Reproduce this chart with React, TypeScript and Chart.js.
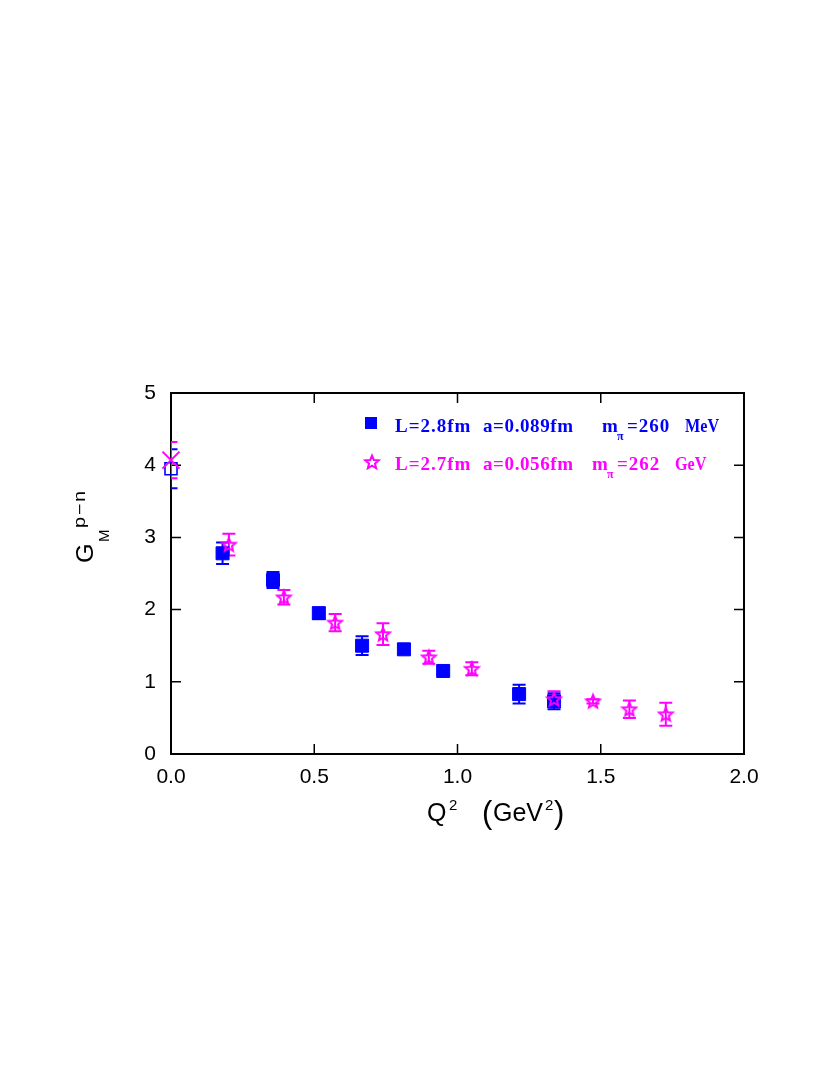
import React, { useEffect, useRef } from 'react';
import Chart from 'chart.js/auto';

// ---- data ----
const xTicks = [0, 0.5, 1.0, 1.5, 2.0];
const xTickLabels = ['0.0', '0.5', '1.0', '1.5', '2.0'];
const yTicks = [0, 1, 2, 3, 4, 5];
const yTickLabels = ['0', '1', '2', '3', '4', '5'];

const blueQ2 = [0, 0.18, 0.356, 0.516, 0.667, 0.813, 0.95, 1.215, 1.337];
const blueG = [3.95, 2.78, 2.41, 1.95, 1.5, 1.45, 1.15, 0.83, 0.73];
const blueErr = [0.27, 0.15, 0.11, 0.08, 0.13, 0.06, 0.05, 0.13, 0.11];

const magQ2 = [0, 0.202, 0.394, 0.573, 0.74, 0.9, 1.05, 1.337, 1.473, 1.6, 1.727];
const magG = [4.07, 2.9, 2.17, 1.82, 1.66, 1.34, 1.18, 0.76, 0.73, 0.62, 0.55];
const magErr = [0.25, 0.15, 0.1, 0.12, 0.15, 0.09, 0.09, 0.11, 0.03, 0.12, 0.16];

const BLUE = '#0000ff';
const MAG = '#ff00ff';

function makeStar(color: string, size: number, lw: number): HTMLCanvasElement {
  const c = document.createElement('canvas');
  c.width = size;
  c.height = size;
  const ctx = c.getContext('2d')!;
  const cx = size / 2;
  const cy = size / 2 + 0.6;
  const R = size / 2 - lw;
  const r = R * 0.45;
  ctx.beginPath();
  for (let i = 0; i < 10; i++) {
    const rad = i % 2 === 0 ? R : r;
    const a = -Math.PI / 2 + (i * Math.PI) / 5;
    const px = cx + rad * Math.cos(a);
    const py = cy + rad * Math.sin(a);
    if (i === 0) ctx.moveTo(px, py);
    else ctx.lineTo(px, py);
  }
  ctx.closePath();
  ctx.strokeStyle = color;
  ctx.lineWidth = lw;
  ctx.lineJoin = 'miter';
  ctx.stroke();
  return c;
}

function stretchText(ctx: CanvasRenderingContext2D, t: string, x: number, y: number, font: string, sx: number, ls = '0px') {
  ctx.save();
  ctx.translate(x, y);
  ctx.scale(sx, 1);
  ctx.font = font;
  (ctx as any).letterSpacing = ls;
  ctx.fillText(t, 0, 0);
  ctx.restore();
}

const framePlugin = {
  id: 'frameAndErrors',
  beforeDatasetsDraw(chart: any) {
    const { ctx, chartArea } = chart;
    const { left, right, top, bottom } = chartArea;
    const xs = chart.scales.x;
    const ys = chart.scales.y;
    ctx.save();
    ctx.strokeStyle = '#000';
    ctx.lineWidth = 2;
    ctx.strokeRect(left, top, right - left, bottom - top);
    ctx.lineWidth = 1.5;
    ctx.beginPath();
    xTicks.forEach((v) => {
      if (v <= xs.min || v >= xs.max) return;
      const px = xs.getPixelForValue(v);
      ctx.moveTo(px, bottom);
      ctx.lineTo(px, bottom - 10);
      ctx.moveTo(px, top);
      ctx.lineTo(px, top + 10);
    });
    yTicks.forEach((v) => {
      if (v <= ys.min || v >= ys.max) return;
      const py = ys.getPixelForValue(v);
      ctx.moveTo(left, py);
      ctx.lineTo(left + 10, py);
      ctx.moveTo(right, py);
      ctx.lineTo(right - 10, py);
    });
    ctx.stroke();
    ctx.restore();

    // error bars (clipped to plot area)
    ctx.save();
    ctx.beginPath();
    ctx.rect(left, top, right - left, bottom - top);
    ctx.clip();
    const sets = [
      { idx: 1, err: blueErr, ys: blueG, color: BLUE },
      { idx: 0, err: magErr, ys: magG, color: MAG },
    ];
    sets.forEach((s) => {
      const meta = chart.getDatasetMeta(s.idx);
      ctx.strokeStyle = s.color;
      ctx.lineWidth = 2;
      meta.data.forEach((pt: any, j: number) => {
        const x = pt.x;
        const y1 = ys.getPixelForValue(s.ys[j] + s.err[j]);
        const y2 = ys.getPixelForValue(s.ys[j] - s.err[j]);
        ctx.beginPath();
        ctx.moveTo(x, y1);
        ctx.lineTo(x, y2);
        ctx.moveTo(x - 6.5, y1);
        ctx.lineTo(x + 6.5, y1);
        ctx.moveTo(x - 6.5, y2);
        ctx.lineTo(x + 6.5, y2);
        ctx.stroke();
      });
    });
    ctx.restore();
  },
  afterDraw(chart: any) {
    const { ctx } = chart;
    ctx.save();
    // legend
    ctx.fillStyle = BLUE;
    ctx.fillRect(365, 417, 12, 12);
    const star = makeStar(MAG, 18, 2);
    ctx.drawImage(star, 372 - 9, 462 - 9);

    ctx.textAlign = 'left';
    ctx.textBaseline = 'alphabetic';
    const seg = (t: string, x: number, y: number, color: string, size: number, ls: string, sx = 1) => {
      ctx.fillStyle = color;
      stretchText(ctx, t, x, y, `bold ${size}px "Liberation Serif"`, sx, ls);
    };
    seg('L=2.8fm', 395, 432, BLUE, 19, '1px');
    seg('a=0.089fm', 483, 432, BLUE, 19, '0.6px');
    seg('m', 602, 432, BLUE, 19, '0px');
    seg('π', 617, 440, BLUE, 12, '0px');
    seg('=260', 627, 432, BLUE, 19, '1px');
    seg('MeV', 685, 432, BLUE, 19, '0px', 0.85);

    seg('L=2.7fm', 395, 470, MAG, 19, '1px');
    seg('a=0.056fm', 483, 470, MAG, 19, '0.6px');
    seg('m', 592, 470, MAG, 19, '0px');
    seg('π', 607, 478, MAG, 12, '0px');
    seg('=262', 617, 470, MAG, 19, '1px');
    seg('GeV', 675, 470, MAG, 19, '0px', 0.85);

    // x title: Q^2 (GeV^2)
    ctx.fillStyle = '#000';
    const main = '25px "Liberation Sans"';
    const sup = '15px "Liberation Sans"';
    const paren = '31px "Liberation Sans"';
    stretchText(ctx, 'Q', 427, 821, main, 1.0);
    stretchText(ctx, '2', 449, 810, sup, 1.0);
    stretchText(ctx, '(', 482, 823, paren, 1);
    stretchText(ctx, 'GeV', 493, 821, main, 1.0);
    stretchText(ctx, '2', 545, 810, sup, 1.0);
    stretchText(ctx, ')', 554, 823, paren, 1);

    // y title: G_M^{p-n}, rotated
    ctx.translate(93, 563);
    ctx.rotate(-Math.PI / 2);
    stretchText(ctx, 'G', 0, 0, '24px "Liberation Sans"', 1.05);
    stretchText(ctx, 'M', 21, 16, '15px "Liberation Sans"', 1.0);
    stretchText(ctx, 'p', 35, -8, '16px "Liberation Sans"', 1.25);
    stretchText(ctx, '\u2212', 48, -8, '16px "Liberation Sans"', 1.2);
    stretchText(ctx, 'n', 61, -8, '16px "Liberation Sans"', 1.25);
    ctx.restore();
  },
};

export default function App() {
  const ref = useRef<HTMLCanvasElement | null>(null);
  useEffect(() => {
    if (!ref.current) return;
    const starImg = makeStar(MAG, 18, 2);
    const magStyles = magQ2.map((_, i) => (i === 0 ? 'crossRot' : starImg));
    const magRadius = magQ2.map((_, i) => (i === 0 ? 12 : 9));
    const blueStyles = blueQ2.map(() => 'rect');
    const blueBg = blueQ2.map((_, i) => (i === 0 ? 'rgba(0,0,0,0)' : BLUE));
    const blueBw = blueQ2.map((_, i) => (i === 0 ? 1.6 : 1));
    const blueR = blueQ2.map((_, i) => (i === 0 ? 8.5 : 9.2));

    const chart = new Chart(ref.current, {
      type: 'scatter',
      data: {
        datasets: [
          {
            label: 'L=2.7fm a=0.056fm m_pi=262 GeV',
            data: magQ2.map((q, i) => ({ x: q, y: magG[i] })),
            pointStyle: magStyles as any,
            pointRadius: magRadius,
            borderColor: MAG,
            backgroundColor: MAG,
            borderWidth: 2,
            clip: false as any,
            order: 0,
          },
          {
            label: 'L=2.8fm a=0.089fm m_pi=260 MeV',
            data: blueQ2.map((q, i) => ({ x: q, y: blueG[i] })),
            pointStyle: blueStyles as any,
            pointRadius: blueR,
            borderColor: BLUE,
            backgroundColor: blueBg,
            borderWidth: blueBw,
            clip: false as any,
            order: 1,
          },
        ],
      },
      options: {
        responsive: false,
        animation: false,
        devicePixelRatio: 1,
        layout: { padding: { left: 0, right: 86, top: 393, bottom: 0 } },
        plugins: { legend: { display: false }, tooltip: { enabled: false } },
        scales: {
          x: {
            type: 'linear',
            min: 0,
            max: 2,
            grid: { display: false, drawTicks: false },
            border: { display: false },
            ticks: {
              stepSize: 0.5,
              padding: 11,
              color: '#000',
              font: { family: 'Liberation Sans', size: 21 },
              callback: (v: any) => {
                const i = xTicks.findIndex((t) => Math.abs(t - Number(v)) < 1e-9);
                return i >= 0 ? xTickLabels[i] : '';
              },
            },
            afterFit: (s: any) => {
              s.height = 321;
            },
          },
          y: {
            type: 'linear',
            min: 0,
            max: 5,
            grid: { display: false, drawTicks: false },
            border: { display: false },
            ticks: {
              stepSize: 1,
              padding: 15,
              color: '#000',
              font: { family: 'Liberation Sans', size: 21 },
              callback: (v: any) => {
                const i = yTicks.findIndex((t) => Math.abs(t - Number(v)) < 1e-9);
                return i >= 0 ? yTickLabels[i] : '';
              },
            },
            afterFit: (s: any) => {
              s.width = 171;
            },
          },
        },
      },
      plugins: [framePlugin],
    });
    return () => chart.destroy();
  }, []);
  return (
    <div style={{ position: 'fixed', left: 0, top: 0, width: 830, height: 1075, background: '#fff' }}>
      <canvas ref={ref} width={830} height={1075} style={{ width: 830, height: 1075 }} />
    </div>
  );
}
